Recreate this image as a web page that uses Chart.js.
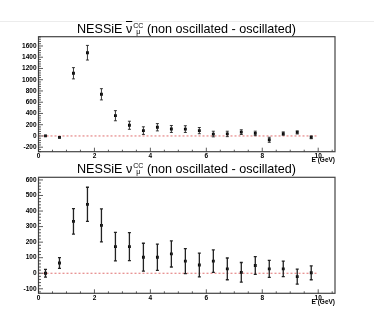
<!DOCTYPE html>
<html>
<head>
<meta charset="utf-8">
<script src="https://cdn.jsdelivr.net/npm/chart.js@4.4.1/dist/chart.umd.min.js"></script>
<style>
  html, body { margin: 0; padding: 0; background: #fff; }
  body { width: 374px; height: 330px; position: relative; overflow: hidden; font-family: "Liberation Sans", Arial, sans-serif; }
  .topline { position: absolute; left: 0; top: 21px; width: 374px; height: 1px; background: #ececec; }
  .panel { position: absolute; left: 0; width: 374px; }
  .title { position: absolute; left: 38px; width: 297px; text-align: center; font-size: 12.6px; line-height: 14px; color: #000; white-space: nowrap; z-index: 2; }
  .idx { display: inline-flex; flex-direction: column; font-size: 7px; line-height: 6px; vertical-align: middle; margin-left: 1px; position: relative; top: -1px; }
  .bar { text-decoration: overline; }
</style>
</head>
<body>
<div class="topline"></div>
<div class="panel" style="top:0;height:165px"><canvas id="chart-anti" width="374" height="165"></canvas></div>
<div class="panel" style="top:160px;height:150px"><canvas id="chart-nu" width="374" height="150"></canvas></div>
<div class="title" style="top:22px">NESSiE <span class="bar">ν</span><span class="idx"><span>CC</span><span>μ</span></span> (non oscillated - oscillated)</div>
<div class="title" style="top:162px">NESSiE ν<span class="idx"><span>CC</span><span>μ</span></span> (non oscillated - oscillated)</div>
<script>
"use strict";

// energy bin centres (GeV), 0.5 GeV bins
const E_BINS = [0.25, 0.75, 1.25, 1.75, 2.25, 2.75, 3.25, 3.75, 4.25, 4.75,
  5.25, 5.75, 6.25, 6.75, 7.25, 7.75, 8.25, 8.75, 9.25, 9.75];

// anti-neutrino: non oscillated - oscillated
const ANTI_DIFF = [0, -25, 1115, 1480, 741, 360, 190, 95, 155, 124,
  122, 95, 34, 36, 68, 45, -68, 42, 63, -24];
const ANTI_ERR = [10, 10, 100, 130, 100, 90, 72, 68, 65, 62,
  60, 55, 50, 48, 42, 40, 45, 30, 28, 25];

// neutrino: non oscillated - oscillated
const NU_DIFF = [0, 66, 334, 443, 308, 171, 171, 103, 103, 124,
  78, 53, 78, 28, 6, 50, 28, 28, -22, 3];
const NU_ERR = [25, 35, 82, 110, 106, 92, 90, 90, 84, 84,
  80, 76, 72, 70, 63, 57, 55, 50, 48, 45];

const X_RANGE = [0, 10.6];
const ANTI_Y_RANGE = [-280, 1765];
const NU_Y_RANGE = [-129, 617];

const TICK_FONT = { family: "Liberation Sans", size: 6.5, weight: "bold" };

const rootStyle = {
  id: "rootStyle",
  beforeDatasetsDraw(chart) {
    const { ctx, scales: { x, y } } = chart;
    // dashed zero line
    ctx.save();
    ctx.strokeStyle = "#e07070";
    ctx.lineWidth = 1;
    ctx.setLineDash([2, 2]);
    ctx.beginPath();
    ctx.moveTo(x.getPixelForValue(0), y.getPixelForValue(0));
    ctx.lineTo(x.getPixelForValue(10), y.getPixelForValue(0));
    ctx.stroke();
    ctx.restore();
  },
  afterDatasetsDraw(chart, args, opts) {
    const { ctx, chartArea: a, scales: { x, y } } = chart;
    ctx.save();
    // error bars
    ctx.strokeStyle = "#222";
    ctx.lineWidth = opts.barWidth;
    opts.values.forEach((v, i) => {
      const px = x.getPixelForValue(E_BINS[i]);
      const hi = y.getPixelForValue(v + opts.errors[i]);
      const lo = y.getPixelForValue(v - opts.errors[i]);
      ctx.beginPath();
      ctx.moveTo(px, hi); ctx.lineTo(px, lo);
      ctx.moveTo(px - 1.5, hi); ctx.lineTo(px + 1.5, hi);
      ctx.moveTo(px - 1.5, lo); ctx.lineTo(px + 1.5, lo);
      ctx.stroke();
    });
    // frame
    ctx.strokeStyle = "#444";
    ctx.lineWidth = 1.2;
    ctx.strokeRect(a.left, a.top, a.right - a.left, a.bottom - a.top);
    // inward ticks
    ctx.lineWidth = 0.8;
    ctx.strokeStyle = "#333";
    ctx.beginPath();
    const ys = opts.yStep / 5;
    for (let v = Math.ceil(y.min / ys) * ys; v <= y.max; v += ys) {
      const py = y.getPixelForValue(v);
      const major = Math.abs(v / opts.yStep - Math.round(v / opts.yStep)) < 1e-6;
      ctx.moveTo(a.left, py); ctx.lineTo(a.left + (major ? 4.5 : 2.5), py);
    }
    for (let v = 0; v <= x.max; v += 0.5) {
      const px = x.getPixelForValue(v);
      const major = Math.abs(v / 2 - Math.round(v / 2)) < 1e-6;
      ctx.moveTo(px, a.bottom); ctx.lineTo(px, a.bottom - (major ? 4 : 2));
    }
    ctx.stroke();
    // axis label
    ctx.fillStyle = "#000";
    ctx.font = "bold 6.5px 'Liberation Sans'";
    ctx.textAlign = "right";
    ctx.textBaseline = "middle";
    ctx.fillText("E (GeV)", a.right, a.bottom + opts.labelDy);
    ctx.restore();
  },
};

function makeChart(id, values, errors, yRange, yStep, top, bottomH, barWidth, labelDy) {
  return new Chart(document.getElementById(id), {
    type: "scatter",
    data: {
      datasets: [{
        data: E_BINS.map((e, i) => ({ x: e, y: values[i] })),
        pointStyle: "rect",
        pointRadius: 2,
        backgroundColor: "#000",
        borderColor: "#000",
        borderWidth: 0,
      }],
    },
    options: {
      responsive: false,
      animation: false,
      layout: { padding: { top: top, right: 39, left: 0, bottom: 0 } },
      plugins: {
        legend: { display: false },
        tooltip: { enabled: false },
        rootStyle: { values, errors, yStep, barWidth, labelDy },
      },
      scales: {
        x: {
          type: "linear",
          min: X_RANGE[0],
          max: X_RANGE[1],
          grid: { display: false, drawTicks: false },
          border: { display: false },
          ticks: { stepSize: 2, includeBounds: false, font: TICK_FONT, color: "#000", padding: 1, maxRotation: 0, callback: (v) => String(v) },
          afterFit: (s) => { s.height = bottomH; },
        },
        y: {
          min: yRange[0],
          max: yRange[1],
          grid: { display: false, drawTicks: false },
          border: { display: false },
          ticks: { stepSize: yStep, includeBounds: false, font: TICK_FONT, color: "#000", padding: 2, callback: (v) => String(v) },
          afterFit: (s) => { s.width = 38.5; },
        },
      },
    },
    plugins: [rootStyle],
  });
}

makeChart("chart-anti", ANTI_DIFF, ANTI_ERR, ANTI_Y_RANGE, 200, 36.7, 13.3, 0.9, 8.2);
makeChart("chart-nu", NU_DIFF, NU_ERR, NU_Y_RANGE, 100, 17.3, 16.7, 1.3, 8.5);
</script>
</body>
</html>
